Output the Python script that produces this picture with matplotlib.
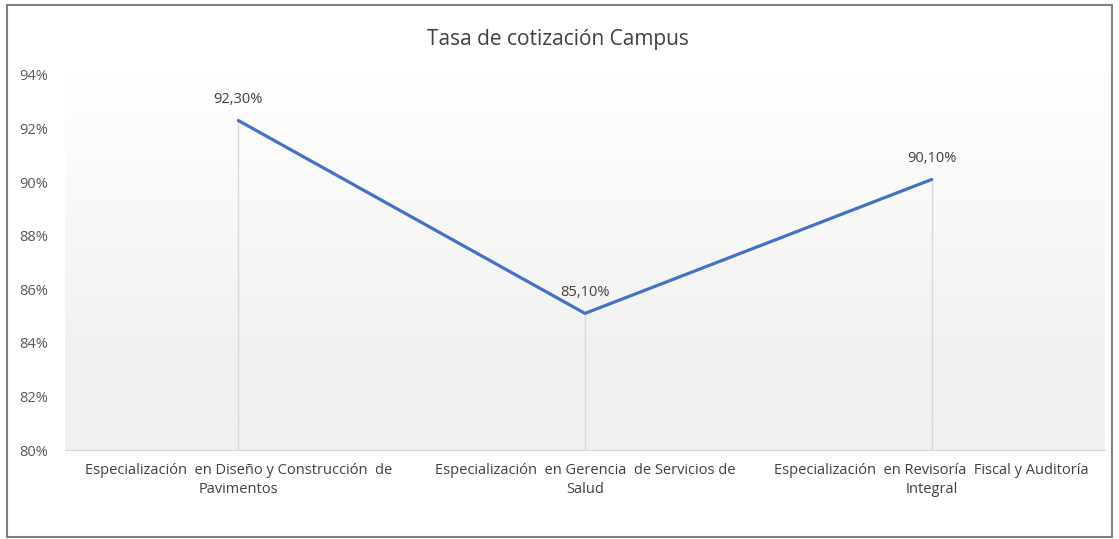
import numpy as np
import matplotlib
matplotlib.use("Agg")
import matplotlib.pyplot as plt
from matplotlib.patches import Rectangle

categories = [
    "Especialización  en Diseño y Construcción  de\nPavimentos",
    "Especialización  en Gerencia  de Servicios de\nSalud",
    "Especialización  en Revisoría  Fiscal y Auditoría\nIntegral",
]
values = [92.3, 85.1, 90.1]
value_labels = ["92,30%", "85,10%", "90,10%"]
yticks = [80, 82, 84, 86, 88, 90, 92, 94]
title = "Tasa de cotización Campus"

plt.rcParams['font.family'] = ['Open Sans', 'DejaVu Sans']

fig = plt.figure(figsize=(11.19, 5.39), dpi=100)
ax = fig.add_axes([65/1119, 89/539, 1040/1119, 375/539])

x = np.arange(len(values))
ax.set_xlim(-0.5, len(values) - 0.5)
ax.set_ylim(80, 94)

# background gradient: white top -> light gray bottom
grad = np.linspace(0, 1, 256).reshape(-1, 1)
grad = np.clip((grad - 0.2) / 0.8, 0, 1)
cmap = matplotlib.colors.LinearSegmentedColormap.from_list("g", ["#f0f0f0", "#ffffff"])
ax.imshow(grad, aspect='auto', cmap=cmap, extent=[-0.5, len(values) - 0.5, 80, 94],
          origin='lower', zorder=0)

# drop lines
for xi, v in zip(x, values):
    ax.plot([xi, xi], [80, v], color='#d9d9d9', lw=1, zorder=1)

ax.plot(x, values, color='#4472C4', lw=2.3, zorder=3, solid_capstyle='round')

for xi, v, lab in zip(x, values, value_labels):
    ax.text(xi, v + 0.5, lab, ha='center', va='bottom', fontsize=10.5, color='#404040', zorder=4)

ax.set_xticks(x)
ax.set_xticklabels(categories, fontsize=10.5, color='#404040', linespacing=1.4)
ax.set_yticks(yticks)
ax.set_yticklabels([f"{t}%" for t in yticks], fontsize=10.5, color='#595959')
ax.tick_params(length=0)
ax.tick_params(axis='x', pad=9)
ax.tick_params(axis='y', pad=12)
for s in ['top', 'right', 'left']:
    ax.spines[s].set_visible(False)
ax.spines['bottom'].set_color('#d9d9d9')

fig.text(558/1119, 1 - 40/539, title, ha='center', va='center', fontsize=15, color='#404040')

# outer chart border
fig.patches.append(Rectangle((7/1119, 2/539), 1105/1119, 532/539, transform=fig.transFigure,
                             fill=False, edgecolor='#808080', lw=1.5))

fig.savefig("out.png", dpi=100)
